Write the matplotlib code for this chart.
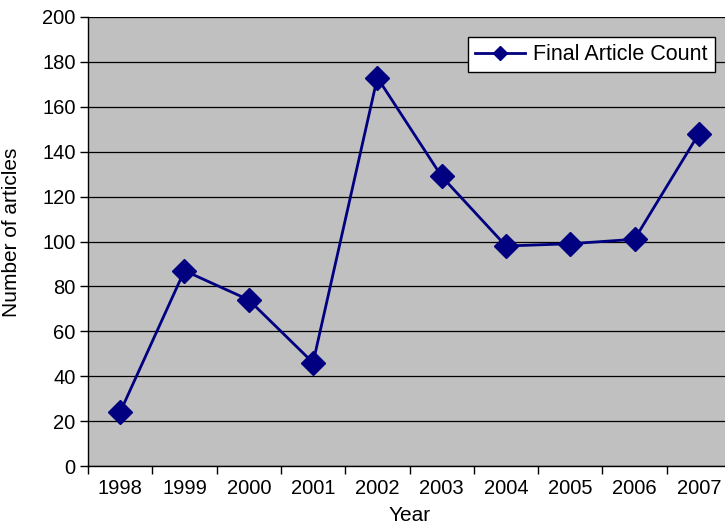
import matplotlib
matplotlib.use("Agg")
import matplotlib.pyplot as plt
import numpy as np

years = ["1998", "1999", "2000", "2001", "2002", "2003", "2004", "2005", "2006", "2007"]
counts = [24, 87, 74, 46, 173, 129, 98, 99, 101, 148]
series_name = "Final Article Count"
yticks = [0, 20, 40, 60, 80, 100, 120, 140, 160, 180, 200]

plt.rcParams['font.family'] = ['Liberation Sans', 'DejaVu Sans']

fig = plt.figure(figsize=(7.25, 5.27), dpi=100)
W, H = 725, 527
ax = fig.add_axes([88 / W, 1 - 466 / H, (731 - 88) / W, (466 - 17) / H])
ax.set_facecolor('#C0C0C0')

x = np.arange(len(years))
ax.plot(x, counts, color='#000080', lw=2, marker='D', markersize=12,
        markerfacecolor='#000080', markeredgecolor='#000080', label=series_name, zorder=3)

ax.set_xlim(-0.5, len(years) - 0.5)
ax.set_ylim(0, 200)
ax.set_yticks(yticks)
ax.yaxis.grid(True, color='black', lw=0.9)
ax.set_axisbelow(True)

ax.set_xticks(x)
ax.set_xticklabels(years)
ax.set_xticks(np.arange(-0.5, len(years), 1), minor=True)
ax.tick_params(axis='x', which='major', length=0, pad=9, labelsize=14.5)
ax.tick_params(axis='x', which='minor', length=6, width=1, direction='out')
ax.tick_params(axis='y', length=6, width=1, direction='out', labelsize=14.5, pad=3)

for s in ['top', 'right']:
    ax.spines[s].set_visible(False)
ax.spines['left'].set_linewidth(1)
ax.spines['bottom'].set_linewidth(1)

ax.set_xlabel("Year", fontsize=15, labelpad=6)
ax.set_ylabel("Number of articles", fontsize=15)
ax.yaxis.set_label_coords((21 - 88) / 643, (466 - 232) / 449)

leg = ax.legend(loc='upper right', bbox_to_anchor=((715 - 88) / (731 - 88), (466 - 37) / (466 - 17)),
                fontsize=15.5, frameon=True, fancybox=False, edgecolor='black',
                framealpha=1, borderpad=0.33, handlelength=2.3, borderaxespad=0, handletextpad=0.4,
                markerscale=0.6)
leg.get_frame().set_linewidth(1)

fig.savefig("out.png", dpi=100)
